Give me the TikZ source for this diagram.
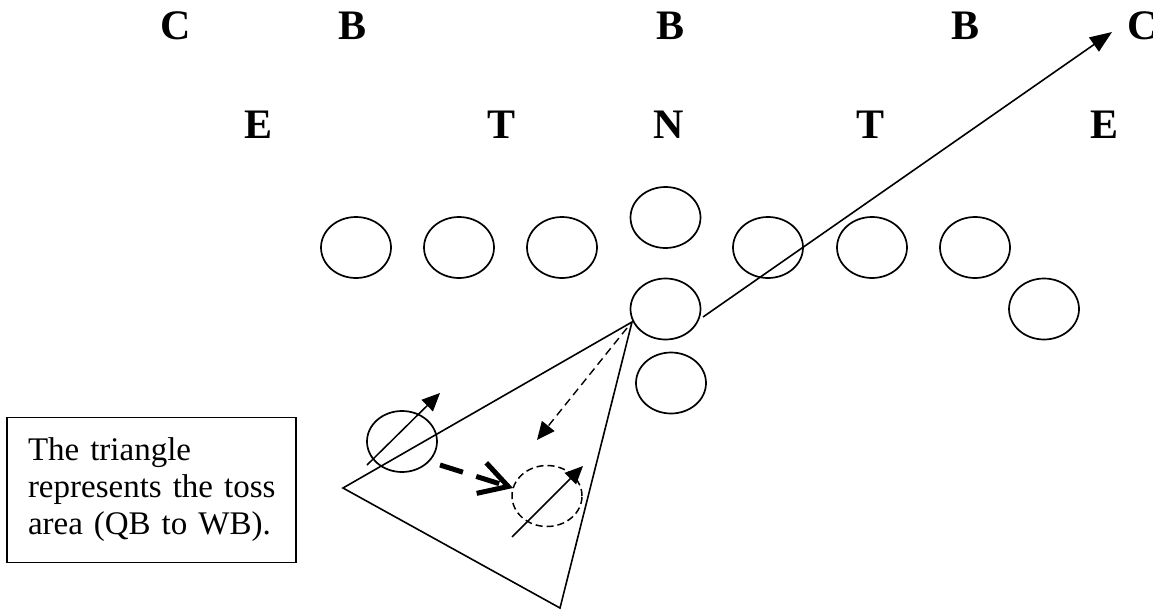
\documentclass[tikz,border=0pt]{standalone}
\usepackage{fontspec}
\setmainfont{Liberation Serif}
\usetikzlibrary{shapes.geometric,arrows.meta}
\begin{document}
\begin{tikzpicture}[x=1pt,y=-1pt,
  letter/.style={font=\fontsize{42}{46}\selectfont\bfseries, anchor=base, inner sep=0},
  player/.style={draw, ellipse, minimum width=70pt, minimum height=61pt, inner sep=0, line width=1.7pt},
  ghost/.style={player, line width=1.5pt, dash pattern=on 7pt off 4pt},
  ln/.style={line width=1.6pt},
  tip/.style={-{Triangle[length=22pt,width=17pt]}},
  smalltip/.style={-{Triangle[length=18pt,width=16pt]}}
]
\useasboundingbox (0,0) rectangle (1153,610);
% defense
\node[letter] (c1) at (176,40) {C};
\node[letter] (b1) at (353,40) {B};
\node[letter] (b2) at (670,40) {B};
\node[letter] (b3) at (965,40) {B};
\node[letter] (c2) at (1143,40) {C};
\node[letter] (e1) at (259,138) {E};
\node[letter] (t1) at (501,138) {T};
\node[letter] (n1) at (669,138) {N};
\node[letter] (t2) at (870,138) {T};
\node[letter] (e2) at (1104,138) {E};
% offense
\node[player] (p1) at (356,247.5) {};
\node[player] (p2) at (459,247.5) {};
\node[player] (p3) at (562,247.5) {};
\node[player] (ctr) at (665.5,217.5) {};
\node[player] (p5) at (768,247.5) {};
\node[player] (p6) at (872,247.5) {};
\node[player] (p7) at (975,247.5) {};
\node[player] (p8) at (1044,309) {};
\node[player] (qb) at (665.5,309) {};
\node[player] (fb) at (671,383) {};
\node[player] (wb) at (402,441.5) {};
\node[ghost] (wb2) at (547,496) {};
% coordinates
\coordinate (runS) at (703,317);
\coordinate (runE) at (1112,32);
\coordinate (apex) at (632,322);
\coordinate (tl) at (343,488);
\coordinate (tb) at (560,608);
\coordinate (dS) at (627,328);
\coordinate (dE) at (537,440);
\coordinate (w1S) at (367,465);
\coordinate (w1E) at (440,393);
\coordinate (w2S) at (512,537);
\coordinate (w2E) at (583,466);
\coordinate (mS) at (440,465);
\coordinate (mE) at (513,488);
% run
\draw[ln,tip] (runS) -- (runE);
% toss triangle
\draw[ln,line join=miter] (apex) -- (tl) -- (tb) -- cycle;
% pitch
\draw[line width=1.4pt,dash pattern=on 8pt off 5pt,smalltip] (dS) -- (dE);
% wingback motion
\draw[line width=1.5pt,smalltip] (w1S) -- (w1E);
\draw[line width=1.5pt,smalltip] (w2S) -- (w2E);
\draw[line width=5pt,dash pattern=on 24pt off 14pt,-{Straight Barb[length=28pt,width=32pt,line width=5pt]}] (mS) -- (mE);
% note box
\node[draw, line width=1.6pt, minimum width=289pt, minimum height=145pt, text width=247pt, align=left, inner sep=0,
  font=\fontsize{33}{37}\selectfont] (note) at (151.5,490)
  {The triangle\\\mbox{represents the toss}\\area (QB to WB).};
\end{tikzpicture}
\end{document}
